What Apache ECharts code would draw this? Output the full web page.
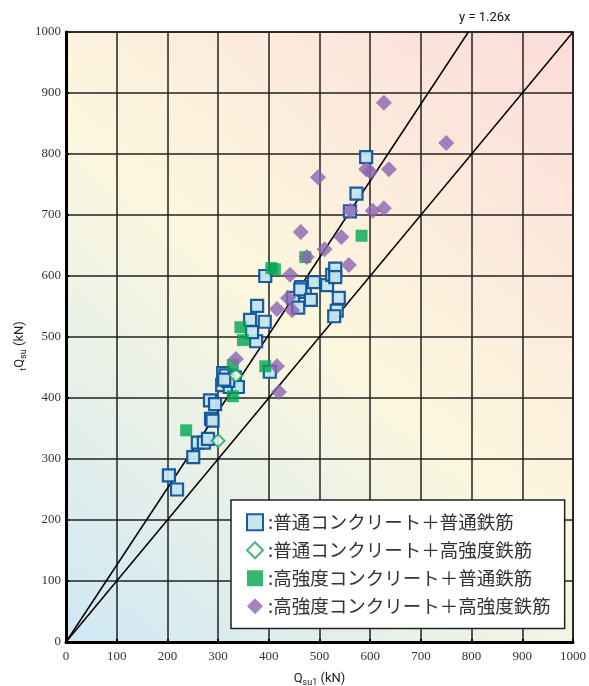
<!DOCTYPE html>
<html><head><meta charset="utf-8">
<script src="https://cdn.jsdelivr.net/npm/echarts@6/dist/echarts.min.js"></script>
<style>html,body{margin:0;padding:0;background:#fff}#c{width:589px;height:686px}</style>
</head><body><div id="c"></div>
<script>
// Data: [Qsu1 (kN), tQsu (kN)]
const seriesNames = [
  '普通コンクリート＋普通鉄筋',
  '普通コンクリート＋高強度鉄筋',
  '高強度コンクリート＋普通鉄筋',
  '高強度コンクリート＋高強度鉄筋'
];
const normalNormal = [
  [203,273],[219,250],[251,303],[260,327],[272,327],[280,333],[286,366],[289,363],
  [284,396],[294,390],[308,421],[310,441],[315,437],[323,418],[333,434],[339,418],
  [320,428],[312,430],[402,443],[375,493],[367,508],[363,528],[392,525],[377,551],
  [393,600],[448,564],[458,548],[464,582],[471,574],[462,578],[483,561],[489,590],
  [515,585],[525,602],[531,612],[531,598],[538,564],[534,543],[529,534],[560,706],
  [573,735],[592,795]
];
const normalHigh = [[300,330],[335,437]];
const highNormal = [
  [237,347],[329,454],[329,403],[344,516],[349,495],[393,452],[405,613],[412,611],
  [472,631],[583,666]
];
const highHigh = [
  [335,464],[416,452],[420,410],[416,546],[446,544],[438,564],[442,602],[463,672],
  [475,631],[510,644],[497,762],[543,664],[558,618],[561,707],[592,775],[600,771],
  [605,707],[627,711],[627,884],[637,775],[750,818]
];
const refSlopes = [1, 1.26];
const refLabel = 'y = 1.26x';

const axisMax = 1000;
function refLine(k){ const x = Math.min(axisMax, axisMax / k); return [[0,0],[x, k*x]]; }

const chart = echarts.init(document.getElementById('c'));
const serif = '"Liberation Serif", serif';
const sans = 'Roboto';
const cjk = 'Noto Sans CJK JP';
const nameRich = {
  q: {fontFamily: sans, fontSize: 13, fill: '#222', color: '#222'},
  s: {fontFamily: sans, fontSize: 9, fill: '#222', color: '#222', padding: [8,0,0,0]}
};
chart.setOption({
  animation: false,
  backgroundColor: '#fff',
  textStyle: {fontFamily: serif},
  grid: {
    left: 66, right: 16, top: 32, bottom: 44, show: true,
    outerBoundsMode: 'none', containLabel: false,
    borderColor: '#111', borderWidth: 1.5,
    backgroundColor: new echarts.graphic.LinearGradient(0, 1, 1, 0, [
      {offset: 0, color: '#cfe8f5'},
      {offset: 0.5, color: '#fcf7de'},
      {offset: 1, color: '#fcdcd9'}
    ])
  },
  xAxis: {
    type: 'value', min: 0, max: 1000, interval: 100,
    axisLine: {show: true, onZero: false, lineStyle: {color: '#000', width: 3}},
    axisTick: {show: true, inside: true, length: 3, lineStyle: {color: '#000', width: 2}},
    splitLine: {show: true, lineStyle: {color: '#222', width: 1.5}},
    axisLabel: {color: '#333', fontFamily: serif, fontSize: 13, margin: 8, formatter: v => String(v)},
    name: '{q|Q}{s|su1}{q| (kN)}',
    nameLocation: 'middle', nameGap: 28, nameMoveOverlap: false,
    nameTextStyle: {rich: nameRich}
  },
  yAxis: {
    type: 'value', min: 0, max: 1000, interval: 100,
    axisLine: {show: true, onZero: false, lineStyle: {color: '#000', width: 3}},
    axisTick: {show: true, inside: true, length: 3, lineStyle: {color: '#000', width: 2}},
    splitLine: {show: true, lineStyle: {color: '#222', width: 1.5}},
    axisLabel: {color: '#333', fontFamily: serif, fontSize: 13, margin: 5, formatter: v => String(v)}
  },
  legend: {
    orient: 'vertical', left: 231, top: 500,
    backgroundColor: '#fff', borderColor: '#222', borderWidth: 1.5,
    padding: [13, 14, 13, 15],
    itemGap: 9.5, itemWidth: 16, itemHeight: 16,
    data: seriesNames,
    formatter: n => ':' + n,
    textStyle: {fontFamily: cjk, fontSize: 18.5, color: '#333'}
  },
  graphic: [{
    type: 'text', left: 459, top: 11,
    style: {text: refLabel, font: '13px Roboto', fill: '#111'}
  }, {
    type: 'text', x: 20, y: 346, rotation: Math.PI / 2,
    style: {text: '{s|t}{q|Q}{s|su}{q| (kN)}', rich: nameRich, align: 'center', verticalAlign: 'middle'}
  }],
  series: [
    ...refSlopes.map(k => ({
      type: 'line', data: refLine(k), symbol: 'none', silent: true, z: 1,
      lineStyle: {color: '#000', width: 1.5}
    })),
    {
      name: seriesNames[0], type: 'scatter', data: normalNormal, symbol: 'rect', symbolSize: 12, z: 3,
      itemStyle: {color: '#c4e4ec', borderColor: '#0f5399', borderWidth: 2.2, opacity: 0.95}
    },
    {
      name: seriesNames[1], type: 'scatter', data: normalHigh, symbol: 'diamond', symbolSize: 13, z: 4,
      itemStyle: {color: '#fdfbe3', borderColor: '#14a37a', borderWidth: 2}
    },
    {
      name: seriesNames[2], type: 'scatter', data: highNormal, symbol: 'rect', symbolSize: 12, z: 4,
      itemStyle: {color: '#00a651'}
    },
    {
      name: seriesNames[3], type: 'scatter', data: highHigh, symbol: 'diamond', symbolSize: 16, z: 5,
      itemStyle: {color: '#8c64b0'}
    }
  ]
});
</script></body></html>
